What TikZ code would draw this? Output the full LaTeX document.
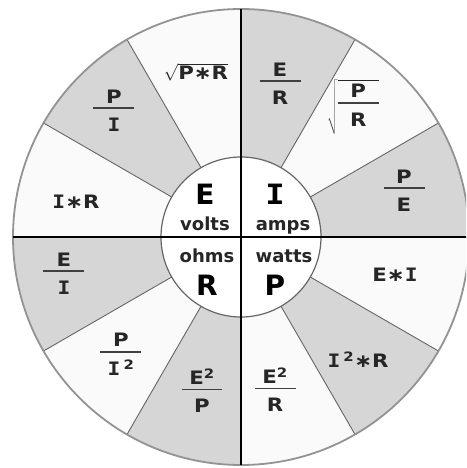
\documentclass[tikz,border=0pt]{standalone}
\usepackage{fontspec}
\setmainfont{DejaVu Sans}
\newfontfamily\widefont{DejaVu Sans}[FakeStretch=1.15]
\newfontfamily\slabfont{DejaVu Sans Mono}[FakeStretch=1.15]
\newcommand\Icap{{\slabfont I}}
\newcommand\frc[2]{\begin{tabular}{@{}c@{}}#1\\[-16pt]{\color{black!75}\rule{41pt}{1.8pt}}\\[0.5pt]#2\end{tabular}}

\begin{document}
\begin{tikzpicture}[
  x=1pt, y=1pt,
  lbl/.style  = {font=\widefont\bfseries\fontsize{18.5}{22}\selectfont, text=black!85, inner sep=0pt},
  big/.style  = {font=\bfseries\fontsize{28}{30}\selectfont, anchor=base, inner sep=0pt},
  unit/.style = {font=\bfseries\fontsize{18}{20}\selectfont, anchor=base, inner sep=0pt, text=black!85},
  spoke/.style= {draw=black!60, line width=0.9pt},
  cross/.style= {draw=black, line width=1.8pt},
]
  \useasboundingbox (-241,-231) rectangle (225,237);
  \clip (-241,-231) rectangle (225,237);
  \fill[white] (-241,-231) rectangle (225,237);
  \fill[black!2] (0,0) circle (228);
  \foreach \a in {0,60,...,300}
    \fill[gray!32] (0,0) -- (\a:228) arc[start angle=\a, end angle=\a+30, radius=228] -- cycle;
  \foreach \a in {30,60,120,150,210,240,300,330}
    \draw[spoke] (\a:80) -- (\a:228);
  \draw[gray!85, line width=1.8pt] (0,0) circle (228);
  \draw[black!60, fill=white, line width=1.2pt] (0,0) circle (80);
  \draw[cross] (-228,0) -- (228,0);
  \draw[cross] (0,-228) -- (0,228);

  % inner circle
  \node[big]  (e)     at (-36,32)  {E};
  \node[big]  (i)     at (34,32)   {\Icap};
  \node[big]  (r)     at (-34,-58) {R};
  \node[big]  (p)     at (34,-58)  {P};
  \node[unit] (volts) at (-36,6)   {volts};
  \node[unit] (amps)  at (42,6)    {amps};
  \node[unit] (ohms)  at (-34,-26) {ohms};
  \node[unit] (watts) at (43,-26)  {watts};

  % outer ring
  \node[lbl] (sqpr) at (-45,165)   {$\sqrt{\mbox{P∗R}}$};
  \node[lbl] (pi)   at (-127,124)  {\frc{P}{\Icap}};
  \node[lbl] (ir)   at (-165,35)   {\Icap∗R};
  \node[lbl] (ei)   at (-177,-39)  {\frc{E}{\Icap}};
  \node[lbl] (pii)  at (-120,-120) {\frc{P}{\Icap\,\textsuperscript{2}}};
  \node[lbl] (eep)  at (-39,-157)  {\frc{E\textsuperscript{2}}{P}};
  \node[lbl] (eer)  at (34,-156)   {\frc{E\textsuperscript{2}}{R}};
  \node[lbl] (iir)  at (117,-123)  {\Icap\,\textsuperscript{2}∗R};
  \node[lbl] (eti)  at (154,-38)   {E∗\Icap};
  \node[lbl] (pe)   at (163,44)    {\frc{P}{E}};
  \node[lbl] (sqpq) at (112,130)   {$\sqrt{\mbox{\frc{P}{R}}}$};
  \node[lbl] (er)   at (39,151)    {\frc{E}{R}};
\end{tikzpicture}
\end{document}
